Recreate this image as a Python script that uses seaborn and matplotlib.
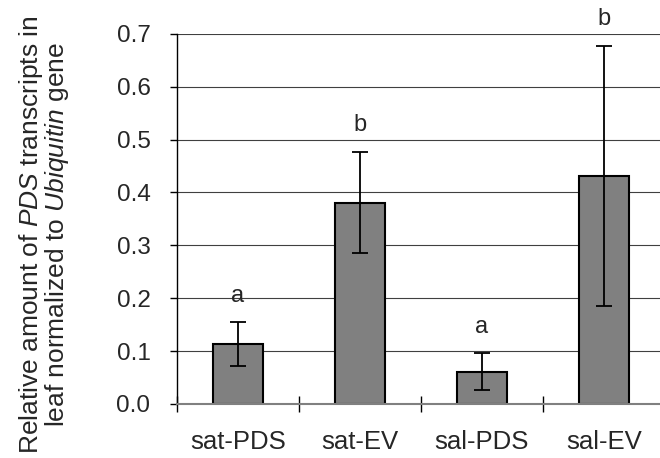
import pandas as pd
import matplotlib
matplotlib.use('Agg')
import matplotlib.pyplot as plt
import seaborn as sns
from matplotlib.ticker import FixedLocator

samples = ['sat-PDS', 'sat-EV', 'sal-PDS', 'sal-EV']
means = [0.113, 0.381, 0.061, 0.432]
errors = [0.042, 0.096, 0.035, 0.246]
letters = ['a', 'b', 'a', 'b']

df = pd.DataFrame({'sample': samples, 'value': means})

sns.set_style('white')
plt.rcParams['font.family'] = ['Liberation Sans', 'DejaVu Sans']
plt.rcParams['mathtext.fontset'] = 'custom'
plt.rcParams['mathtext.it'] = 'Liberation Sans:italic'
plt.rcParams['mathtext.rm'] = 'Liberation Sans'

fig = plt.figure(figsize=(6.6, 4.58), dpi=100)
ax = fig.add_axes([0.268, 0.118, 0.732, 0.808])

sns.barplot(data=df, x='sample', y='value', color='#808080', width=0.41,
            edgecolor='black', linewidth=1.5, saturation=1, ax=ax, zorder=2)
ax.errorbar(range(len(samples)), means, yerr=errors, fmt='none',
            ecolor='black', elinewidth=1.3, capsize=6, capthick=1.3, zorder=3)

# letters above the error bars
for i, (m, e, l) in enumerate(zip(means, errors, letters)):
    ax.text(i, m + e + 0.05, l, ha='center', va='center', fontsize=17,
            clip_on=False, zorder=4)

ax.set_ylim(0, 0.7)
ax.set_xlim(-0.5, 3.46)
ax.set_yticks([0.0, 0.1, 0.2, 0.3, 0.4, 0.5, 0.6, 0.7])
ax.set_yticklabels(['0.0', '0.1', '0.2', '0.3', '0.4', '0.5', '0.6', '0.7'])
ax.yaxis.grid(True, color='#404040', linewidth=0.8)
ax.set_axisbelow(True)

for s in ['top', 'right']:
    ax.spines[s].set_visible(False)
ax.spines['left'].set_color('black')
ax.spines['left'].set_linewidth(1.0)
ax.spines['bottom'].set_color('#808080')
ax.spines['bottom'].set_linewidth(1.5)

ax.tick_params(axis='y', direction='out', length=5, width=1, color='black',
               labelsize=17.5, pad=14, left=True)
ax.tick_params(axis='x', which='major', length=0, labelsize=18.5, pad=19)
ax.xaxis.set_minor_locator(FixedLocator([-0.5, 0.5, 1.5, 2.5]))
ax.tick_params(axis='x', which='minor', direction='inout', length=12,
               width=1, color='black', bottom=True)

ax.set_xlabel('')
ax.set_ylabel('Relative amount of $PDS$ transcripts in\n'
              'leaf normalized to $Ubiquitin$ gene', fontsize=19,
              linespacing=0.95, va='center')
ax.yaxis.set_label_coords(-0.275, 0.457)

fig.savefig('out.png', dpi=100)
